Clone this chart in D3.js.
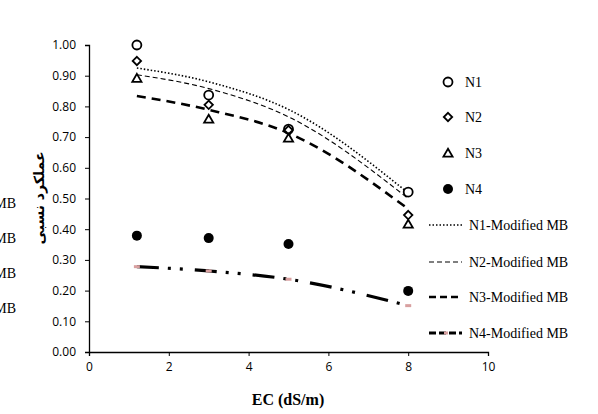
<!DOCTYPE html>
<html>
<head>
<meta charset="utf-8">
<script src="https://cdn.jsdelivr.net/npm/d3@7"></script>
<style>
  body { margin: 0; background: #fff; }
  svg { display: block; }
  .tick text { font-family: "Open Sans", "DejaVu Sans", sans-serif; font-size: 12px; fill: #000; }
  .legend text { font-family: "Liberation Serif", serif; font-size: 14px; fill: #000; }
</style>
</head>
<body>
<div id="chart"></div>
<script>
// measured points
var ecPoints = [1.2, 3, 5, 8];
var n1 = [1.00, 0.837, 0.726, 0.521];
var n2 = [0.948, 0.805, 0.723, 0.446];
var n3 = [0.892, 0.759, 0.697, 0.417];
var n4 = [0.379, 0.371, 0.352, 0.199];

// modified MB fits
var n1Fit = [0.925, 0.880, 0.790, 0.518];
var n2Fit = [0.903, 0.858, 0.766, 0.500];
var n3Fit = [0.834, 0.789, 0.713, 0.466];
var n4Fit = [0.278, 0.264, 0.237, 0.151];

var xTicks = [0, 2, 4, 6, 8, 10];
var yTicks = [0, 0.1, 0.2, 0.3, 0.4, 0.5, 0.6, 0.7, 0.8, 0.9, 1.0];

var width = 598, height = 414;
var margin = {top: 45, right: 110, bottom: 62, left: 89};

var svg = d3.select("#chart").append("svg")
   .attr("width", width)
   .attr("height", height);

var x = d3.scaleLinear().domain([0, 10]).range([margin.left, 488]);
var y = d3.scaleLinear().domain([0, 1]).range([352, margin.top]);

// axes
svg.append("g")
   .attr("transform", "translate(0,352)")
   .call(d3.axisBottom(x).tickValues(xTicks).tickSize(4).tickPadding(6).tickFormat(d3.format("d")))
   .call(function(g) {
      g.select(".domain").attr("stroke", "#000").attr("stroke-width", 1.3);
      g.selectAll(".tick line").attr("stroke", "#000");
   });

svg.append("g")
   .attr("transform", "translate(" + margin.left + ",0)")
   .call(d3.axisLeft(y).tickValues(yTicks).tickSize(4).tickPadding(9).tickFormat(d3.format(".2f")))
   .call(function(g) {
      g.select(".domain").attr("stroke", "#000").attr("stroke-width", 1.3);
      g.selectAll(".tick line").attr("stroke", "#000");
   });

// axis titles
svg.append("text")
   .attr("x", 288)
   .attr("y", 405)
   .attr("text-anchor", "middle")
   .style("font-family", "Liberation Serif, serif")
   .style("font-weight", "bold")
   .style("font-size", "16px")
   .text("EC (dS/m)");

svg.append("text")
   .attr("transform", "translate(44,198) rotate(-90)")
   .attr("text-anchor", "middle")
   .style("font-family", "DejaVu Sans, sans-serif")
   .style("font-weight", "bold")
   .style("font-size", "14px")
   .text("عملکرد نسبی");

// fitted curves
var fits = [
   {vals: n1Fit, dash: "1.5,2", w: 1.6},
   {vals: n2Fit, dash: "5,3", w: 1.1},
   {vals: n3Fit, dash: "9,6", w: 2.6},
   {vals: n4Fit, dash: "22,9,3,9,3,12", w: 3.2}
];

var line = d3.line()
   .x(function(d, i) { return x(ecPoints[i]); })
   .y(function(d) { return y(d); })
   .curve(d3.curveMonotoneX);

fits.forEach(function(f) {
   svg.append("path")
      .datum(f.vals)
      .attr("fill", "none")
      .attr("stroke", "#000")
      .attr("stroke-width", f.w)
      .attr("stroke-dasharray", f.dash)
      .attr("d", line);
});

// pink markers on the N4 fit
svg.selectAll(".n4mark")
   .data(n4Fit)
   .enter().append("line")
   .attr("x1", function(d, i) { return x(ecPoints[i]) - 3; })
   .attr("x2", function(d, i) { return x(ecPoints[i]) + 3; })
   .attr("y1", function(d) { return y(d); })
   .attr("y2", function(d) { return y(d); })
   .attr("stroke", "#d8a0a0")
   .attr("stroke-width", 3);

// symbols
function drawSymbol(g, type, cx, cy) {
   if (type === "circle") {
      g.append("circle").attr("cx", cx).attr("cy", cy).attr("r", 4.5)
         .attr("fill", "#fff").attr("stroke", "#000").attr("stroke-width", 1.8);
   } else if (type === "diamond") {
      g.append("path").attr("d", d3.symbol().type(d3.symbolDiamond2).size(45)())
         .attr("transform", "translate(" + cx + "," + cy + ")")
         .attr("fill", "#fff").attr("stroke", "#000").attr("stroke-width", 1.8);
   } else if (type === "triangle") {
      g.append("path").attr("d", d3.symbol().type(d3.symbolTriangle2).size(60)())
         .attr("transform", "translate(" + cx + "," + (cy + 1) + ")")
         .attr("fill", "#fff").attr("stroke", "#000").attr("stroke-width", 1.8);
   } else {
      g.append("circle").attr("cx", cx).attr("cy", cy).attr("r", 5)
         .attr("fill", "#000");
   }
}

var series = [
   {vals: n1, type: "circle"},
   {vals: n2, type: "diamond"},
   {vals: n3, type: "triangle"},
   {vals: n4, type: "dot"}
];

var pts = svg.append("g");
series.forEach(function(s) {
   s.vals.forEach(function(v, i) {
      drawSymbol(pts, s.type, x(ecPoints[i]), y(v));
   });
});

// legend
var legend = svg.append("g").attr("class", "legend");
var symLabels = ["N1", "N2", "N3", "N4"];
var symY = [82, 117, 153, 189];
series.forEach(function(s, i) {
   drawSymbol(legend, s.type, 448, symY[i]);
   legend.append("text").attr("x", 465).attr("y", symY[i] + 5).text(symLabels[i]);
});

var fitLabels = ["N1-Modified MB", "N2-Modified MB", "N3-Modified MB", "N4-Modified MB"];
var fitY = [225, 262, 297, 333];
var legendDash = ["1.5,2", "5,3", "7,4", "7,3"];
fits.forEach(function(f, i) {
   legend.append("line")
      .attr("x1", 429).attr("x2", 462)
      .attr("y1", fitY[i]).attr("y2", fitY[i])
      .attr("stroke", "#000")
      .attr("stroke-width", f.w)
      .attr("stroke-dasharray", legendDash[i]);
   legend.append("text").attr("x", 469).attr("y", fitY[i] + 5).text(fitLabels[i]);
});
legend.append("line")
   .attr("x1", 444).attr("x2", 448)
   .attr("y1", fitY[3]).attr("y2", fitY[3])
   .attr("stroke", "#d8a0a0").attr("stroke-width", 3);

// clipped copy of the legend at the left edge (cut off in the reference too)
var ghostY = [203, 238, 273, 308];
fitLabels.forEach(function(t, i) {
   legend.append("text")
      .attr("x", 16).attr("y", ghostY[i] + 5)
      .attr("text-anchor", "end")
      .text(t);
});
</script>
</body>
</html>
